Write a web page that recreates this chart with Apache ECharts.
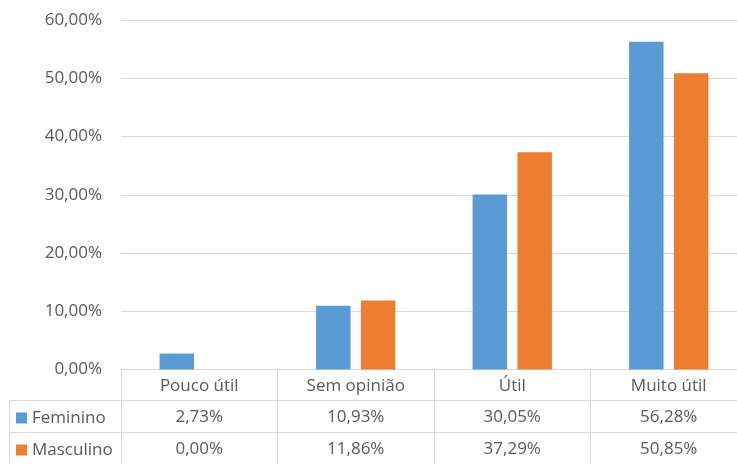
<!DOCTYPE html>
<html><head><meta charset="utf-8">
<script src="https://cdn.jsdelivr.net/npm/echarts@6/dist/echarts.min.js"></script>
<style>html,body{margin:0;padding:0;background:#fff;overflow:hidden}#c{width:750px;height:464px}</style>
</head><body><div id="c"></div>
<script>
const categories = ['Pouco útil', 'Sem opinião', 'Útil', 'Muito útil'];
const seriesNames = ['Feminino', 'Masculino'];
const feminino = [2.73, 10.93, 30.05, 56.28];
const masculino = [0.00, 11.86, 37.29, 50.85];
const yTicks = [0, 10, 20, 30, 40, 50, 60];

const FONT = 'Open Sans';
const GRAY = '#595959';
const LINE = '#d9d9d9';
const FS = 17;
const fmt = v => v.toFixed(2).replace('.', ',') + '%';

const chart = echarts.init(document.getElementById('c'));
const baseX = (data, offset, tickLen) => ({
  type: 'category', data: data, position: 'bottom', offset: offset,
  axisLine: {show: true, lineStyle: {color: LINE, width: 1}},
  axisTick: {show: true, length: tickLen, alignWithLabel: false, lineStyle: {color: LINE}},
  axisLabel: {color: GRAY, fontFamily: FONT, fontSize: FS, margin: 8, interval: 0},
  splitLine: {show: false}
});
chart.setOption({
  animation: false,
  textStyle: {fontFamily: FONT},
  grid: {left: 121, top: 20, width: 626, height: 349.5, containLabel: false},
  legend: {
    data: seriesNames, orient: 'vertical', left: 16, top: 408, padding: 0,
    itemWidth: 11, itemHeight: 11, itemGap: 12, icon: 'rect',
    textStyle: {color: GRAY, fontFamily: FONT, fontSize: FS, lineHeight: 20}
  },
  xAxis: [
    baseX(categories, 0, 31),
    baseX(feminino.map(fmt), 31, 32),
    baseX(masculino.map(fmt), 63, 32)
  ],
  yAxis: {
    type: 'value', min: yTicks[0], max: yTicks[yTicks.length - 1], interval: 10,
    axisLine: {show: false}, axisTick: {show: false},
    axisLabel: {color: GRAY, fontFamily: FONT, fontSize: FS, margin: 19, formatter: v => fmt(v)},
    splitLine: {lineStyle: {color: LINE, width: 1}}
  },
  series: [
    {name: seriesNames[0], type: 'bar', xAxisIndex: 0, data: feminino, barWidth: 34.5, barGap: '30%',
     itemStyle: {color: '#5b9bd5'}},
    {name: seriesNames[1], type: 'bar', xAxisIndex: 0, data: masculino, barWidth: 34.5, barGap: '30%',
     itemStyle: {color: '#ed7d31'}}
  ],
  graphic: [
    {type: 'line', shape: {x1: 9, y1: 400.5, x2: 121, y2: 400.5}, style: {stroke: LINE, lineWidth: 1}},
    {type: 'line', shape: {x1: 9, y1: 432.5, x2: 121, y2: 432.5}, style: {stroke: LINE, lineWidth: 1}},
    {type: 'line', shape: {x1: 9.5, y1: 400, x2: 9.5, y2: 464}, style: {stroke: LINE, lineWidth: 1}}
  ]
});
</script></body></html>
